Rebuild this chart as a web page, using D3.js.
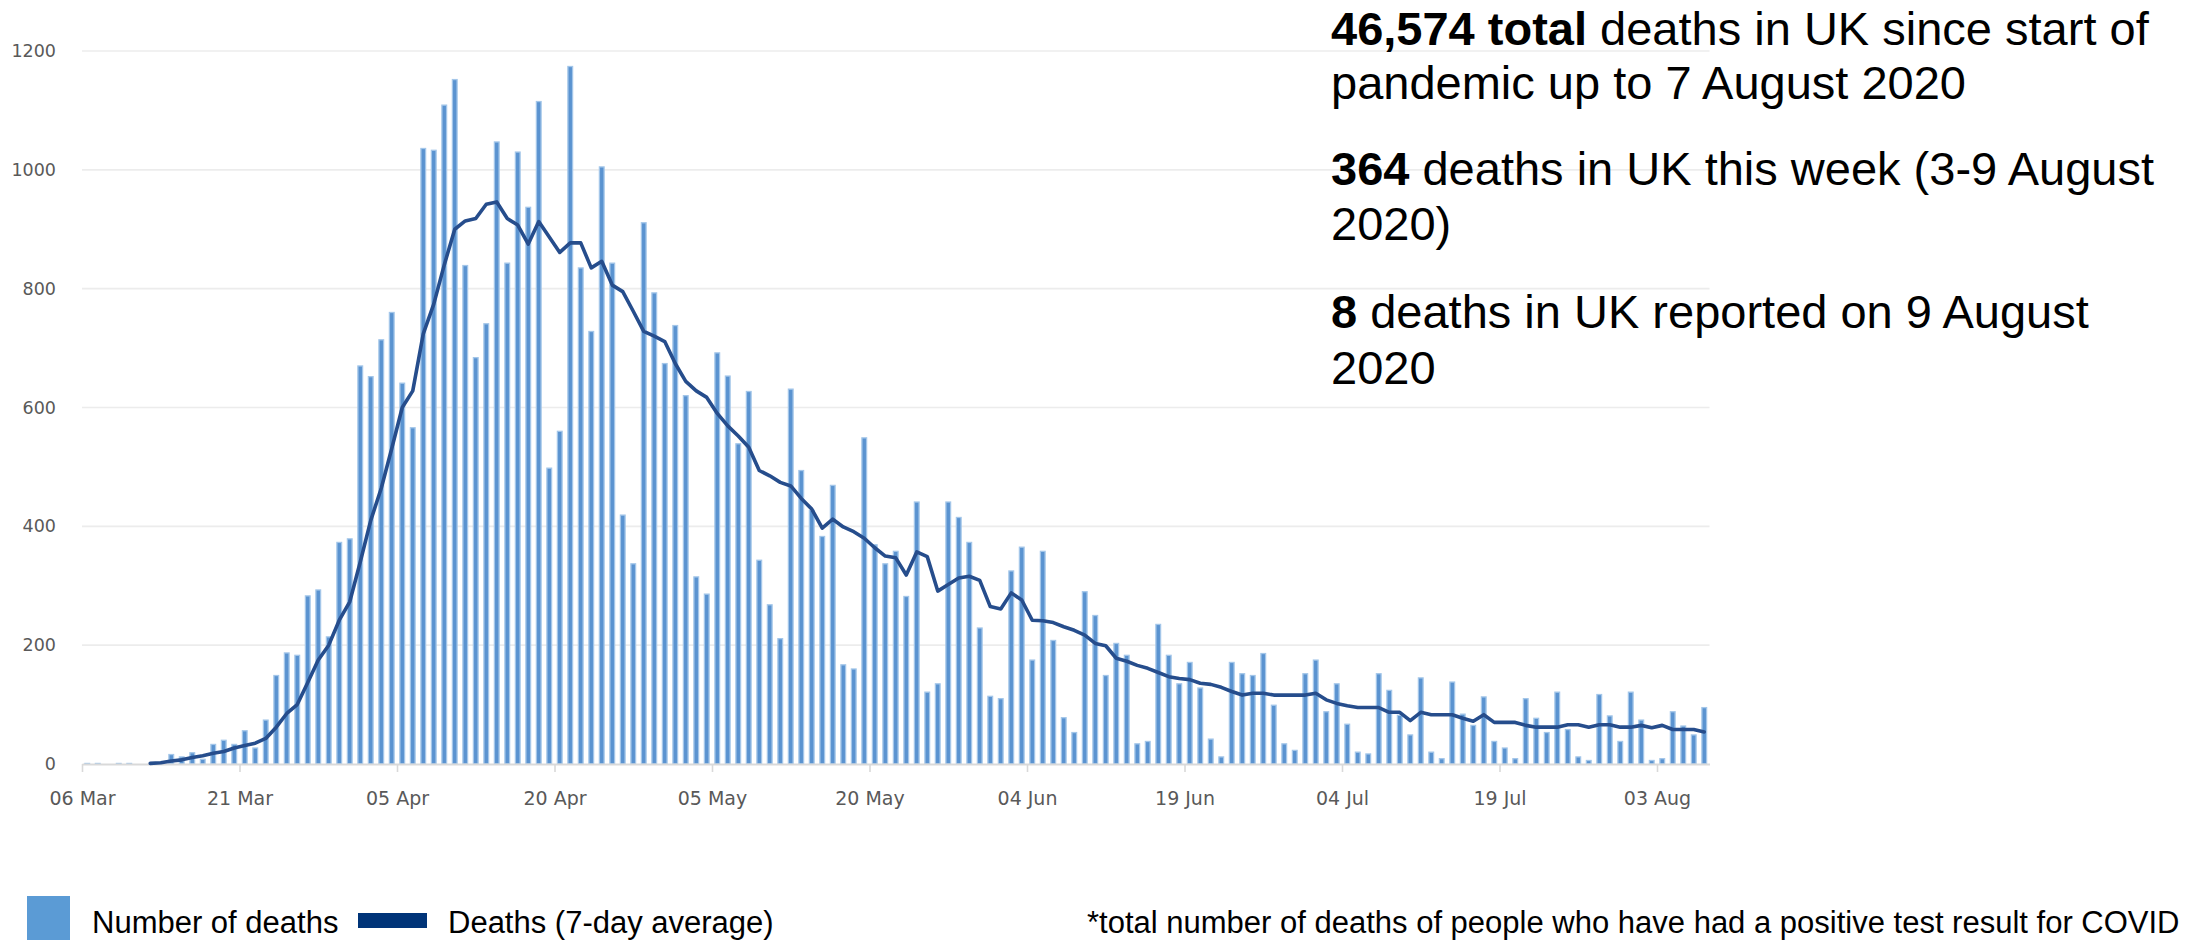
<!DOCTYPE html>
<html><head><meta charset="utf-8">
<script src="https://cdn.jsdelivr.net/npm/d3@7"></script>
<style>
html,body{margin:0;padding:0;background:#fff;overflow:hidden;}
svg{display:block;}
</style></head><body>
<svg id="chart" width="2202" height="940"></svg>
<script>
// ---------- DATA ----------
const startDate = "2020-03-06";
const endDateExclusive = "2020-08-08";
const dailyDeaths = [
  2, 2, 0, 2, 2, 0, 1, 1, 17, 13,
  20, 9, 34, 41, 34, 57, 28, 75, 150, 188,
  184, 284, 294, 215, 374, 380, 671, 653, 715, 761,
  642, 567, 1037, 1034, 1110, 1153, 840, 685, 742, 1048,
  844, 1031, 938, 1116, 499, 561, 1175, 836, 729, 1006,
  844, 420, 338, 912, 794, 675, 739, 621, 316, 287,
  693, 654, 540, 628, 344, 269, 212, 632, 495, 428,
  384, 470, 168, 161, 550, 370, 338, 359, 283, 442,
  122, 136, 442, 416, 374, 230, 115, 111, 326, 366,
  176, 359, 209, 79, 54, 291, 251, 150, 204, 184,
  35, 39, 236, 184, 136, 172, 129, 43, 13, 172,
  153, 150, 187, 100, 35, 24, 153, 176, 89, 136,
  68, 21, 18, 153, 125, 83, 50, 146, 21, 10,
  139, 85, 66, 114, 39, 28, 10, 111, 78, 54,
  122, 59, 13, 7, 118, 82, 39, 122, 75, 7,
  10, 89, 65, 50, 96
];
const avgStartDate = "2020-03-12";
const avgDeaths = [
  1, 2, 5, 7, 11, 14, 18, 21, 27, 31,
  35, 43, 62, 85, 100, 137, 175, 200, 242, 273,
  340, 410, 464, 531, 600, 628, 724, 774, 840, 900,
  914, 918, 942, 946, 918, 907, 875, 913, 887, 861,
  877, 877, 835, 846, 806, 795, 762, 728, 720, 711,
  674, 644, 628, 617, 590, 569, 552, 533, 494, 485,
  474, 468, 447, 429, 397, 412, 399, 391, 380, 364,
  350, 347, 318, 357, 349, 291, 302, 313, 316, 309,
  265, 261, 288, 276, 242, 241, 238, 231, 225, 217,
  203, 199, 178, 173, 166, 161, 154, 147, 144, 142,
  136, 134, 129, 122, 116, 119, 119, 116, 116, 116,
  116, 119, 108, 102, 98, 95, 95, 95, 87, 87,
  73, 87, 83, 83, 83, 77, 72, 83, 70, 70,
  70, 65, 62, 62, 62, 66, 66, 62, 66, 66,
  62, 62, 65, 61, 65, 58, 58, 58, 54
];
const yTicks = [0, 200, 400, 600, 800, 1000, 1200];
const xTickDates = ["2020-03-06","2020-03-21","2020-04-05","2020-04-20","2020-05-05","2020-05-20","2020-06-04","2020-06-19","2020-07-04","2020-07-19","2020-08-03"];
const xTickLabels = ["06 Mar","21 Mar","05 Apr","20 Apr","05 May","20 May","04 Jun","19 Jun","04 Jul","19 Jul","03 Aug"];
const legendLabels = ["Number of deaths", "Deaths (7-day average)"];
const footnote = "*total number of deaths of people who have had a positive test result for COVID";

// ---------- SETUP ----------
const parse = d3.utcParse("%Y-%m-%d");
const days = d3.utcDay.range(parse(startDate), parse(endDateExclusive));
const barData = days.map((d, i) => ({date: d, v: dailyDeaths[i]}));
const avgStart = parse(avgStartDate);
const avgData = avgDeaths.map((v, i) => ({date: d3.utcDay.offset(avgStart, i), v}));

const svg = d3.select("#chart");
const plotL = 82, plotR = 1709.5, plotT = 51, plotB = 764;

const xBand = d3.scaleBand().domain(days.map(d => +d)).range([plotL, plotR])
  .paddingInner(0.43).paddingOuter(0.215);
const xTime = d3.scaleUtc().domain([parse(startDate), parse(endDateExclusive)]).range([plotL, plotR]);
const y = d3.scaleLinear().domain([0, 1200]).range([plotB, plotT]);

// gridlines
svg.append("g").selectAll("line").data(yTicks.filter(t => t > 0)).join("line")
  .attr("x1", plotL).attr("x2", plotR)
  .attr("y1", d => y(d)).attr("y2", d => y(d))
  .attr("stroke", "#ececec").attr("stroke-width", 1.6);

// y axis labels
const yAxis = svg.append("g").attr("transform", `translate(${plotL},0)`)
  .call(d3.axisLeft(y).tickValues(yTicks).tickFormat(d3.format("d")).tickSize(0).tickPadding(26));
yAxis.select(".domain").remove();
yAxis.selectAll("text").attr("font-family", "'DejaVu Sans', Verdana, sans-serif")
  .attr("font-size", 17.5).attr("fill", "#595959");

// bars
const sw = 1.3;
const bw = xBand.bandwidth();
svg.append("g").selectAll("rect").data(barData.filter(d => d.v > 0)).join("rect")
  .attr("x", d => xBand(+d.date) + sw / 2)
  .attr("width", bw - sw)
  .attr("y", d => y(d.v) + sw / 2)
  .attr("height", d => Math.max(0, y(0) - y(d.v) - sw / 2))
  .attr("fill", "#5a93d0")
  .attr("stroke", "#a3c6e9")
  .attr("stroke-width", sw);

// x axis
const xAxis = svg.append("g").attr("transform", `translate(0,${plotB})`)
  .call(d3.axisBottom(xTime).tickValues(xTickDates.map(parse))
    .tickFormat((d, i) => xTickLabels[i]).tickSize(8).tickSizeOuter(0));
xAxis.select(".domain").attr("stroke", "#d9d9d9").attr("stroke-width", 2);
xAxis.selectAll(".tick line").attr("stroke", "#d9d9d9").attr("stroke-width", 1.6);
xAxis.selectAll("text").attr("y", 41).attr("dy", 0)
  .attr("font-family", "'DejaVu Sans', Verdana, sans-serif")
  .attr("font-size", 19).attr("fill", "#595959");

// 7-day average line
svg.append("path").datum(avgData)
  .attr("fill", "none").attr("stroke", "#264d8c").attr("stroke-width", 3.6)
  .attr("stroke-linejoin", "round").attr("stroke-linecap", "round")
  .attr("d", d3.line().x(d => xBand(+d.date) + bw / 2).y(d => y(d.v)));

// headline text block
const tf = "'Liberation Sans', Arial, sans-serif";
const head = svg.append("g").attr("font-family", tf).attr("font-size", 47).attr("fill", "#000");
const headLines = [
  {y: 45, parts: [["46,574 total", true], [" deaths in UK since start of", false]]},
  {y: 99, parts: [["pandemic up to 7 August 2020", false]]},
  {y: 185, parts: [["364", true], [" deaths in UK this week (3-9 August", false]]},
  {y: 240, parts: [["2020)", false]]},
  {y: 328, parts: [["8", true], [" deaths in UK reported on 9 August", false]]},
  {y: 384, parts: [["2020", false]]}
];
headLines.forEach(l => {
  const t = head.append("text").attr("x", 1331).attr("y", l.y).attr("xml:space", "preserve");
  l.parts.forEach(p => t.append("tspan").text(p[0]).attr("font-weight", p[1] ? "bold" : "normal"));
});

// legend
const lg = svg.append("g").attr("font-family", tf).attr("font-size", 31).attr("fill", "#000");
lg.append("rect").attr("x", 27).attr("y", 896).attr("width", 43).attr("height", 44).attr("fill", "#5b9bd5");
lg.append("text").attr("x", 92).attr("y", 933).text(legendLabels[0]);
lg.append("rect").attr("x", 358).attr("y", 913).attr("width", 69).attr("height", 15).attr("fill", "#003478");
lg.append("text").attr("x", 448).attr("y", 933).text(legendLabels[1]);
lg.append("text").attr("x", 1087).attr("y", 933).text(footnote);
</script>
</body></html>
